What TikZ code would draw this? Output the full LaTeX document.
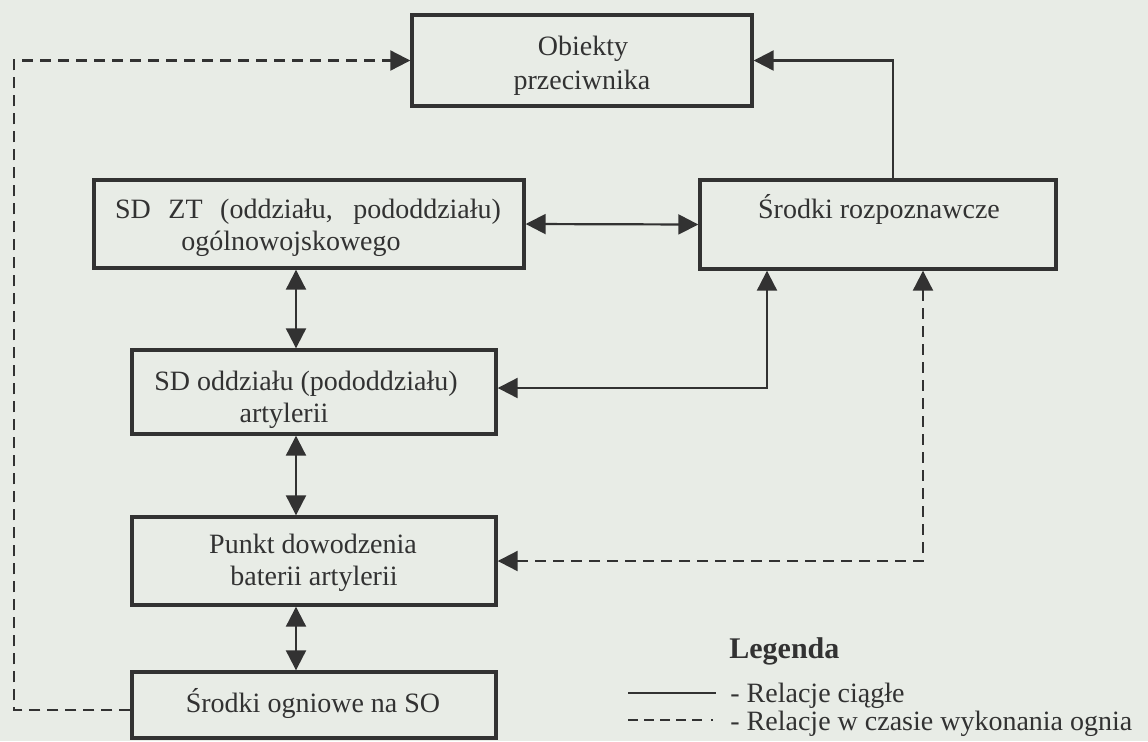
\documentclass[tikz,border=0pt]{standalone}
\usepackage{fontspec}
\setmainfont{Liberation Serif}
\usetikzlibrary{arrows.meta,fit}

\definecolor{paper}{RGB}{232,236,230}
\definecolor{ink}{RGB}{50,50,50}

\begin{document}
\begin{tikzpicture}[x=0.5pt,y=-0.5pt,
  box/.style={draw=ink, line width=1.7pt, inner sep=0pt},
  lbl/.style={anchor=base, text=ink, inner sep=0pt, font=\fontsize{14}{16}\selectfont},
  lgd/.style={anchor=base west, text=ink, inner sep=0pt, font=\fontsize{14}{16}\selectfont},
  link/.style={draw=ink, line width=1.1pt},
  fire/.style={link, dash pattern=on 5.5pt off 3.5pt},
  tip/.style={-{Triangle[length=10pt,width=10pt]}},
  tips/.style={{Triangle[length=10pt,width=10pt]}-{Triangle[length=10pt,width=10pt]}},
]
\fill[paper] (0,0) rectangle (1148,741);
\useasboundingbox (0,0) rectangle (1148,741);

% columns used by the connectors
\coordinate (spine) at (296,0);
\coordinate (leftx) at (14,0);
\coordinate (midx) at (767,0);
\coordinate (firex) at (923,0);
\coordinate (upx) at (893,0);

% boxes
\node[box, fit={(412,15) (752,106)}] (obj) {};
\node[box, fit={(94,180) (524,268)}] (zt) {};
\node[box, fit={(700,180) (1056,269)}] (rec) {};
\node[box, fit={(132,350) (496,434)}] (oddz) {};
\node[box, fit={(132,517) (496,605)}] (pkt) {};
\node[box, fit={(132,672) (496,738)}] (ogn) {};

% box texts
\node[lbl] (objA) at (583,55) {Obiekty};
\node[lbl] (objB) at (582,89) {przeciwnika};
\node[lbl] (ztA) at (308,218) {\makebox[193pt][s]{SD ZT (oddziału, pododdziału)}};
\node[lbl] (ztB) at (291,250) {ogólnowojskowego};
\node[lbl] (recA) at (879,218) {Środki rozpoznawcze};
\node[lbl] (oddzA) at (306,390) {SD oddziału (pododdziału)};
\node[lbl] (oddzB) at (284,422) {artylerii};
\node[lbl] (pktA) at (313,553) {Punkt dowodzenia};
\node[lbl] (pktB) at (314,585) {baterii artylerii};
\node[lbl] (ognA) at (313,712) {Środki ogniowe na SO};

% continuous relations
\draw[link,tip] (rec.north -| upx) |- (obj.east);
\draw[link,tips] (zt.east) -- (rec.west);
\draw[link,tips] (zt.south -| spine) -- (oddz.north -| spine);
\draw[link,tips] (oddz.south -| spine) -- (pkt.north -| spine);
\draw[link,tips] (pkt.south -| spine) -- (ogn.north -| spine);
\draw[link,tips] (rec.south -| midx) |- ([yshift=2pt]oddz.east);

% relations during fire
\draw[fire,tips] (rec.south -| firex) |- (pkt.east);
\draw[fire,tip] ([yshift=-2.5pt]ogn.west) -- ([yshift=-2.5pt]ogn.west -| leftx) |- (obj.west);

% legend
\node[anchor=base west, text=ink, inner sep=0pt, font=\fontsize{15}{17}\selectfont\bfseries] (lgdT) at (729,658) {Legenda};
\coordinate (sA) at (628,693);
\coordinate (sB) at (716,693);
\coordinate (dA) at (628,720);
\coordinate (dB) at (716,720);
\draw[link] (sA) -- (sB);
\draw[link, line width=0.9pt, dash pattern=on 5pt off 3pt on 5pt off 3pt on 5pt off 3pt on 5pt off 3pt on 5pt off 4.5pt on 1pt off 60pt] (dA) -- (dB);
\node[lgd] (lgdS) at (730,702) {- Relacje ciągłe};
\node[lgd] (lgdD) at (730,730) {- Relacje w czasie wykonania ognia};
\end{tikzpicture}
\end{document}
